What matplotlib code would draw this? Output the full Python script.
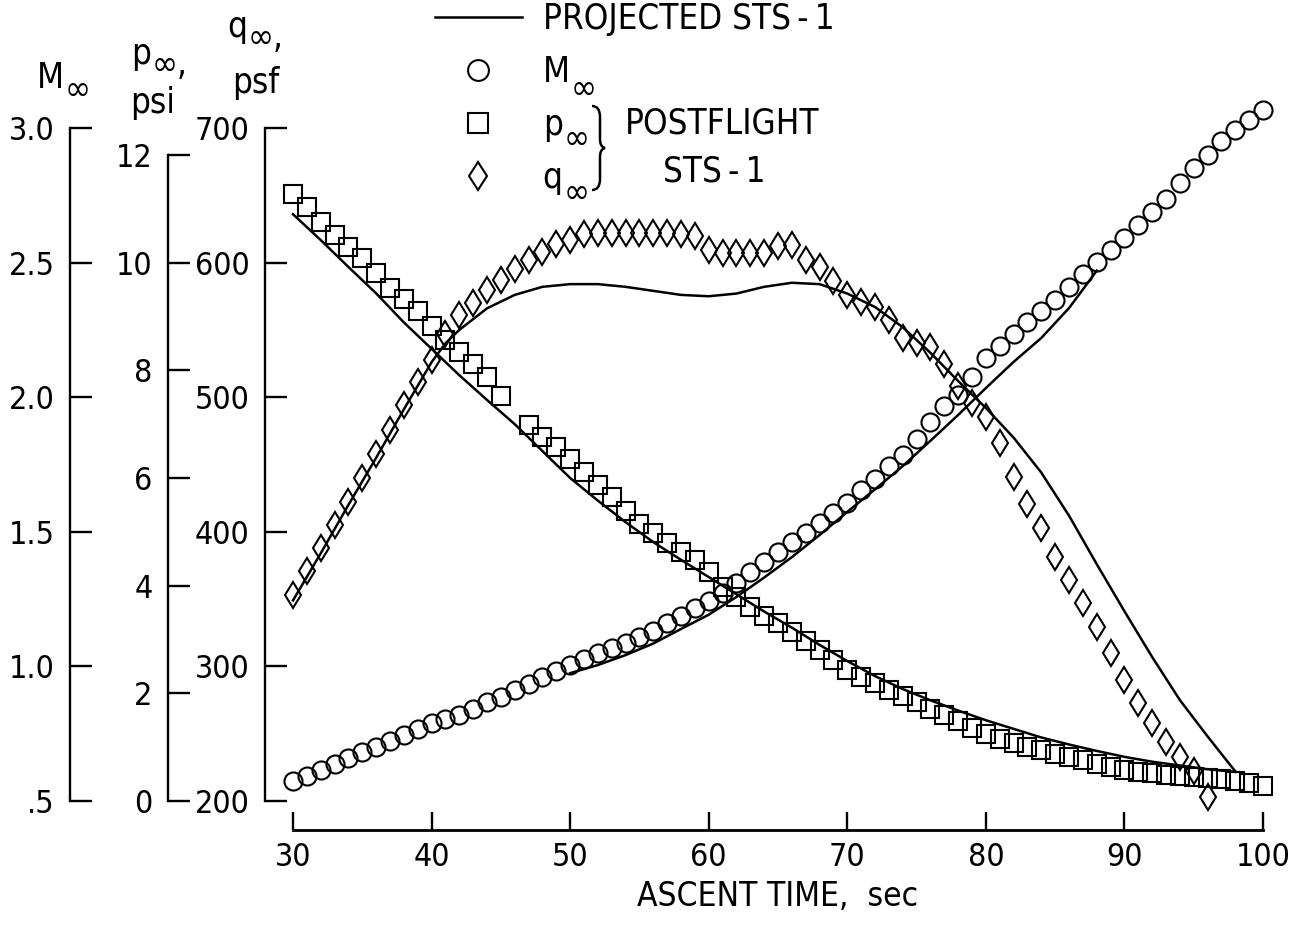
import numpy as np
import matplotlib
matplotlib.use('Agg')
import matplotlib.pyplot as plt
from matplotlib.lines import Line2D
from matplotlib.path import Path
from matplotlib.patches import PathPatch

plt.rcParams['font.family'] = ['DejaVu Sans']
plt.rcParams['font.stretch'] = 'condensed'
plt.rcParams['font.size'] = 23

#%% data (time in sec)
t_mach = np.arange(30, 101)
mach = [0.574, 0.593, 0.615, 0.637, 0.660, 0.682, 0.701, 0.723, 0.745, 0.767,
        0.790, 0.805, 0.819, 0.842, 0.868, 0.886, 0.912, 0.935, 0.961, 0.983,
        1.005, 1.027, 1.050, 1.068, 1.087, 1.109, 1.132, 1.161, 1.187, 1.217,
        1.243, 1.273, 1.310, 1.351, 1.388, 1.425, 1.462, 1.496, 1.533, 1.570,
        1.607, 1.655, 1.696, 1.744, 1.785, 1.845, 1.908, 1.967, 2.008, 2.075,
        2.146, 2.190, 2.235, 2.279, 2.320, 2.361, 2.409, 2.458, 2.502, 2.547,
        2.591, 2.640, 2.688, 2.736, 2.796, 2.851, 2.900, 2.952, 2.993, 3.030,
        3.067]

t_mach_proj = [50, 52, 54, 56, 58, 60, 62, 64, 66, 68, 70, 72, 74, 76, 78,
               80, 82, 84, 86, 87, 88]
mach_proj = [0.975, 1.005, 1.042, 1.085, 1.139, 1.192, 1.258, 1.330, 1.406,
             1.488, 1.574, 1.658, 1.744, 1.838, 1.934, 2.034, 2.131, 2.220,
             2.331, 2.400, 2.470]

t_p = [30, 31, 32, 33, 34, 35, 36, 37, 38, 39, 40, 41, 42, 43, 44, 45,
       47, 48, 49, 50, 51, 52, 53, 54, 55, 56, 57, 58, 59, 60, 61, 62, 63,
       64, 65, 66, 67, 68, 69, 70, 71, 72, 73, 74, 75, 76, 77, 78, 79, 80,
       81, 82, 83, 84, 85, 86, 87, 88, 89, 90, 91, 92, 93, 94, 95, 96, 97,
       98, 99, 100]
p_inf = [11.28, 11.03, 10.76, 10.51, 10.29, 10.09, 9.81, 9.53, 9.33, 9.10,
         8.82, 8.56, 8.34, 8.12, 7.88, 7.52,
         6.98, 6.76, 6.58,
         6.35, 6.11, 5.87, 5.65, 5.39, 5.15, 4.98, 4.79, 4.63, 4.47,
         4.25, 3.98, 3.79, 3.60, 3.44, 3.31, 3.14, 2.97, 2.81, 2.62,
         2.43, 2.30, 2.19, 2.06, 1.95, 1.84, 1.71, 1.60, 1.49, 1.36,
         1.24, 1.15, 1.08, 1.00, 0.95, 0.87, 0.82, 0.76, 0.69, 0.63,
         0.57, 0.54, 0.52, 0.48, 0.46, 0.45, 0.43, 0.41, 0.37, 0.33, 0.28]

t_p_proj = [30, 32, 34, 36, 38, 40, 42, 44, 46, 48, 50, 52, 54, 56, 58, 60,
            62, 64, 66, 68, 70, 72, 74, 76, 78, 80, 82, 84, 86, 88, 90, 92,
            94, 96, 98]
p_proj = [10.90, 10.42, 9.92, 9.43, 8.89, 8.40, 7.91, 7.45, 7.00, 6.50,
          6.00, 5.58, 5.18, 4.81, 4.48, 4.16, 3.84, 3.52, 3.22, 2.90,
          2.60, 2.32, 2.08, 1.87, 1.68, 1.50, 1.34, 1.18, 1.05, 0.93,
          0.82, 0.73, 0.66, 0.59, 0.54]

t_q = np.arange(30, 97)
q_inf = [353, 371, 388, 405, 422, 440, 458, 476, 494, 511,
         528, 547, 561, 570, 580, 587, 595, 602, 608, 614,
         617, 621, 622, 622, 622, 622, 622, 622, 621, 620,
         609, 607, 607, 607, 607, 612, 613, 602, 597, 586,
         576, 571, 567, 557, 544, 540, 537, 525, 508, 496,
         485, 466, 441, 421, 403, 381, 364, 347, 329, 310,
         290, 273, 258, 244, 233, 222, 203]

t_q_proj = [30, 32, 34, 36, 38, 40, 41, 42, 43, 44, 46, 48, 50, 52, 54, 56,
            58, 60, 62, 64, 66, 68, 70, 72, 74, 76, 78, 80, 82, 84, 86, 88,
            90, 92, 94, 96, 98]
q_proj = [349, 384, 420, 455, 491, 526, 540, 550, 558, 566, 576, 582, 584,
          584, 582, 579, 576, 575, 577, 582, 585, 584, 577, 567, 552, 533,
          512, 492, 470, 444, 412, 376, 341, 307, 275, 248, 222]

#%% layout (pixel geometry of the original figure)
W, H = 1304, 927
def fx(px):
    return px / W
def fy(py):
    return 1 - py / H

x0, x1, yb, yt = 293, 1263, 801, 128
fig = plt.figure(figsize=(W / 100, H / 100), dpi=100)
ax = fig.add_axes([fx(x0), fy(yb), fx(x1) - fx(x0), fy(yt) - fy(yb)])
ax.set_xlim(30, 100)
ax.set_ylim(200, 700)
axp = ax.twinx()
axp.set_ylim(0, 12 * (yb - yt) / (yb - 155))
axm = ax.twinx()
axm.set_ylim(0.5, 3.0)

lw = 1.7
fs = 23    # tick labels
fs2 = 25   # titles and legend


def left_axis(a, pos_px, lo, hi, ticks, labels):
    for s in a.spines.values():
        s.set_visible(False)
    sp = a.spines['left']
    sp.set_visible(True)
    sp.set_position(('axes', (pos_px - x0) / (x1 - x0)))
    sp.set_bounds(lo, hi)
    sp.set_linewidth(lw)
    a.yaxis.set_ticks_position('left')
    a.yaxis.set_label_position('left')
    a.set_yticks(ticks)
    a.set_yticklabels(labels)
    a.tick_params(axis='y', direction='in', length=15.5, width=lw, pad=11,
                  labelsize=fs)


left_axis(ax, 265, 200, 700, [200, 300, 400, 500, 600, 700],
          ['200', '300', '400', '500', '600', '700'])
left_axis(axp, 168, 0, 12, [0, 2, 4, 6, 8, 10, 12],
          ['0', '2', '4', '6', '8', '10', '12'])
left_axis(axm, 70, 0.5, 3.0, [0.5, 1.0, 1.5, 2.0, 2.5, 3.0],
          ['.5', '1.0', '1.5', '2.0', '2.5', '3.0'])

ax.spines['bottom'].set_visible(True)
ax.spines['bottom'].set_position(('axes', -(830 - yb) / (yb - yt)))
ax.spines['bottom'].set_bounds(30, 100)
ax.spines['bottom'].set_linewidth(2.0)
ax.set_xticks(np.arange(30, 101, 10))
ax.tick_params(axis='x', direction='in', length=13, width=lw, pad=9,
               labelsize=fs)
ax.set_xlabel('ASCENT TIME,  sec', fontsize=24, labelpad=5)

mk = dict(ls='none', mfc='none', mec='k', mew=1.5, clip_on=False)
ln = dict(color='k', lw=1.8, clip_on=False)

axm.plot(t_mach_proj, mach_proj, **ln)
axm.plot(t_mach, mach, marker='o', ms=13, **mk)
axp.plot(t_p_proj, p_proj, **ln)
axp.plot(t_p, p_inf, marker='s', ms=13, **mk)
ax.plot(t_q_proj, q_proj, **ln)
ax.plot(t_q, q_inf, marker='d', ms=13.5, **mk)


def add_inf(txt, dy, tail=''):
    # big infinity sign hung below the right end of a letter
    ax.annotate('\u221e' + tail, xy=(1, 0), xycoords=txt, xytext=(0.5, dy),
                textcoords='offset points', ha='left', va='center',
                fontsize=fs2, annotation_clip=False)


# axis titles above the three scales
t_m = fig.text(fx(37), fy(88), 'M', fontsize=fs2)
t_pp = fig.text(fx(131), fy(64), 'p', fontsize=fs2)
t_qq = fig.text(fx(227), fy(37), 'q', fontsize=fs2)
fig.text(fx(130), fy(113), 'psi', fontsize=fs2)
fig.text(fx(232), fy(93), 'psf', fontsize=fs2)

# legend
handles = [Line2D([], [], color='k', lw=1.8),
           Line2D([], [], marker='o', ms=15, ls='none', mfc='none', mec='k', mew=1.5),
           Line2D([], [], marker='s', ms=14, ls='none', mfc='none', mec='k', mew=1.5),
           Line2D([], [], marker='d', ms=14.5, ls='none', mfc='none', mec='k', mew=1.5)]
labels = ['PROJECTED STS\u2009-\u20091', 'M', 'p', 'q']
leg = fig.legend(handles, labels, loc='upper left',
                 bbox_to_anchor=(fx(435), fy(2)),
                 bbox_transform=fig.transFigure, frameon=False, fontsize=fs2,
                 handlelength=2.5, handletextpad=0.6, labelspacing=0.55,
                 borderpad=0, borderaxespad=0)
fig.canvas.draw()   # places the legend texts so the subscripts can follow them
lt = leg.get_texts()

add_inf(t_m, 4)
add_inf(t_pp, 4, ',')
add_inf(t_qq, 4, ',')
add_inf(lt[1], 0)
add_inf(lt[2], 2)
add_inf(lt[3], 2)

# thin curly brace grouping the p and q entries
bx, btop, bbot, bmid = 592, 106, 190, 148
brace = Path([(fx(bx), fy(btop)), (fx(bx + 8), fy(btop)), (fx(bx + 8), fy(btop + 11)),
              (fx(bx + 8), fy(bmid - 9)),
              (fx(bx + 8), fy(bmid - 1)), (fx(bx + 13), fy(bmid)),
              (fx(bx + 8), fy(bmid + 1)), (fx(bx + 8), fy(bmid + 9)),
              (fx(bx + 8), fy(bbot - 11)),
              (fx(bx + 8), fy(bbot)), (fx(bx), fy(bbot))],
             [Path.MOVETO, Path.CURVE3, Path.CURVE3, Path.LINETO,
              Path.CURVE3, Path.CURVE3, Path.CURVE3, Path.CURVE3,
              Path.LINETO, Path.CURVE3, Path.CURVE3])
fig.add_artist(PathPatch(brace, transform=fig.transFigure, fill=False,
                         lw=1.8, ec='k'))
fig.text(fx(625), fy(123), 'POSTFLIGHT', fontsize=fs2, va='center')
fig.text(fx(663), fy(171), 'STS\u2009-\u20091', fontsize=fs2, va='center')

fig.savefig('out.png', dpi=100)
